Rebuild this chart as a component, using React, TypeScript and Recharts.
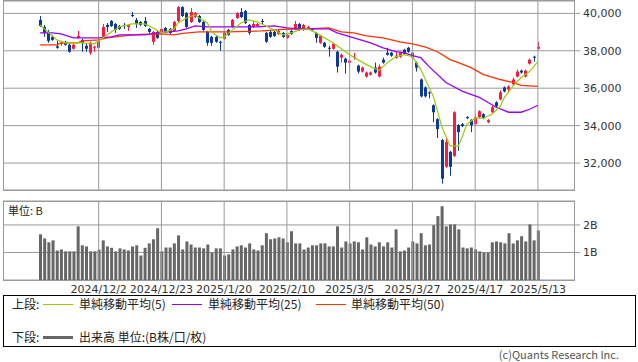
import React from "react";
import {
  ComposedChart,
  Bar,
  Line,
  XAxis,
  YAxis,
  CartesianGrid,
  ReferenceLine,
} from "recharts";

// OHLC per trading day (2024/11/12 .. 2025/5/13)
const opens = [
  39645, 39274, 39009, 38744, 38241, 38400, 38479, 38320, 38108, 38691,
  38585, 38267, 37896, 38161, 38161, 38744, 39380, 39592, 39433, 39327,
  39380, 39274, 39910, 39645, 39539, 39592, 39168, 38479, 39009, 39009,
  39221, 39168, 39062, 39592, 40334, 40016, 39539, 39804, 39857, 39539,
  39009, 38744, 38744, 38479, 38638, 39115, 39274, 39751, 40069, 40122,
  39380, 39274, 39327, 39592, 38956, 39009, 39009, 38903, 38956, 38691,
  39062, 39168, 39433, 39115, 39221, 39168, 38956, 38426, 38426, 38161,
  38108, 37949, 37631, 37578, 37366, 37658, 37207, 36889, 36624, 36730,
  37101, 36624, 37525, 37896, 37896, 37631, 37684, 38055, 38161, 37631,
  37366, 36465, 36041, 35776, 35087, 34345, 33232, 31801, 32596, 32384,
  34027, 34080, 34451, 34292, 34080, 34451, 34610, 34186, 34716, 35246,
  35405, 36041, 35935, 36200, 36624, 36942, 36624, 37313, 37684, 38108,
];
const highs = [
  39857, 39380, 39115, 38850, 38532, 38532, 38532, 38373, 38373, 39062,
  38638, 38373, 38479, 38267, 38585, 39433, 39486, 39645, 39486, 39380,
  39486, 39433, 40069, 39751, 39592, 39804, 39221, 39062, 39062, 39221,
  39274, 39221, 39592, 40387, 40387, 40069, 40281, 40069, 39910, 39592,
  39062, 38797, 38797, 38532, 39009, 39168, 39698, 40069, 40281, 40175,
  39433, 39592, 39486, 39698, 39009, 39062, 39062, 39115, 39009, 38903,
  39115, 39592, 39486, 39433, 39327, 39221, 39009, 38850, 38479, 38267,
  38426, 38002, 37843, 37631, 37525, 37896, 37260, 37154, 36889, 36889,
  37366, 37260, 37631, 38161, 37949, 37949, 37949, 38108, 38214, 37949,
  37419, 36518, 36094, 35829, 35140, 34398, 33285, 33338, 32649, 34769,
  34080, 34133, 34504, 34345, 34610, 34822, 34663, 34345, 35087, 35299,
  35882, 36094, 36147, 36571, 36995, 36995, 36995, 37578, 37737, 38479,
];
const lows = [
  39274, 38744, 38426, 38532, 38108, 38267, 38267, 37896, 38055, 38638,
  37949, 37949, 37790, 37949, 38108, 38691, 39009, 39274, 38956, 39115,
  39168, 39062, 39804, 39221, 39327, 39274, 38956, 38320, 38638, 38956,
  38956, 38903, 39009, 39539, 39804, 39221, 39486, 39751, 39486, 39062,
  38267, 38267, 38426, 38002, 38585, 38797, 39221, 39698, 39751, 39433,
  38850, 39221, 39274, 39380, 38426, 38691, 38744, 38850, 38691, 38638,
  38850, 39115, 39062, 39062, 39168, 39062, 38426, 38373, 38161, 37684,
  38055, 36836, 37366, 36783, 37154, 37525, 36783, 36836, 36571, 36677,
  36783, 36571, 37313, 37737, 37684, 37578, 37631, 37790, 37896, 37525,
  36889, 35511, 35511, 35458, 34186, 33338, 30900, 31748, 31324, 32331,
  32649, 33921, 34345, 33656, 34027, 34398, 34345, 34133, 34663, 34981,
  35352, 35776, 35776, 36147, 36571, 36783, 36571, 37260, 37419, 38055,
];
const closes = [
  39327, 38956, 38532, 38585, 38161, 38426, 38320, 37949, 38320, 38797,
  38426, 38108, 38426, 38214, 38532, 39274, 39274, 39327, 39115, 39168,
  39350, 39380, 39880, 39433, 39380, 39327, 39009, 39009, 38691, 39168,
  39009, 38956, 39539, 40334, 39857, 39274, 40069, 40016, 39539, 39115,
  38426, 38426, 38479, 38450, 38956, 38850, 39645, 40016, 39804, 39486,
  38956, 39433, 39433, 39560, 38479, 38744, 38797, 39062, 38744, 38850,
  38903, 39433, 39115, 39380, 39274, 39115, 38691, 38797, 38214, 38135,
  38373, 37154, 37790, 37366, 37472, 37684, 36889, 37101, 36836, 36836,
  36836, 37154, 37366, 37790, 37737, 37737, 37896, 37843, 37949, 37896,
  37101, 35564, 35564, 35723, 34716, 33815, 31165, 33126, 31801, 34716,
  33656, 33974, 34425, 34027, 34451, 34769, 34398, 34292, 34981, 35034,
  35776, 35829, 36094, 36465, 36889, 36836, 36942, 37525, 37658, 38214,
];

// 出来高 (B)
const volumes = [
  1.66, 1.51, 1.37, 1.44, 1.07, 1.11, 1.04, 1.04, 1.04, 1.95,
  1.26, 1.22, 1.04, 1.04, 1.1, 1.44, 1.22, 1.17, 1.04, 1.15,
  1.11, 1.07, 1.22, 1.26, 0.89, 1.17, 1.33, 1.48, 1.88, 1.04,
  1.18, 1.18, 1.33, 1.62, 1.11, 1.4, 1.29, 1.18, 1.18, 1.15,
  1.29, 1.0, 1.15, 1.15, 0.89, 0.93, 1.11, 1.22, 1.26, 1.18,
  1.33, 1.11, 1.07, 1.26, 1.7, 1.48, 1.51, 1.55, 1.51, 1.37,
  1.77, 1.33, 1.33, 1.11, 1.18, 1.26, 1.26, 1.33, 1.33, 1.22,
  1.22, 1.95, 1.18, 1.4, 1.33, 1.4, 1.37, 1.11, 1.55, 1.29,
  1.22, 1.37, 1.22, 1.37, 1.18, 1.84, 1.04, 1.07, 1.18, 1.4,
  1.33, 1.7, 1.26, 1.29, 1.99, 2.32, 2.68, 1.95, 2.02, 2.02,
  1.84, 1.18, 1.15, 1.18, 1.11, 1.04, 1.0, 1.0, 1.37, 1.4,
  1.37, 1.33, 1.7, 1.33, 1.44, 1.59, 1.4, 2.02, 1.44, 1.8,
];

// moving averages, read at the listed day indexes
const ma5Idx = [0, 4, 6, 10, 13, 17, 19, 22, 25, 27, 29, 30, 32, 33, 35, 37, 38, 40, 41, 43, 44, 46, 48, 50, 52, 54, 56, 58, 60, 62, 64, 66, 70, 74, 78, 81, 83, 85, 87, 89, 91, 94, 96, 98, 100, 101, 102, 104, 106, 108, 110, 111, 113, 115, 117, 119];
const ma5Val = [39380, 38585, 38426, 38426, 38373, 39009, 39274, 39433, 39433, 39221, 38956, 39009, 39168, 39486, 39751, 39910, 39751, 39486, 39009, 38691, 38744, 39115, 39486, 39645, 39539, 39327, 39115, 38850, 38956, 39115, 39168, 38956, 38426, 37790, 37260, 36942, 37366, 37684, 37790, 37684, 36995, 35564, 33974, 32914, 32914, 33444, 34080, 34398, 34398, 34610, 35034, 35511, 36094, 36571, 36889, 37419];
const ma25Idx = [0, 3, 5, 8, 14, 17, 19, 25, 28, 33, 35, 37, 40, 52, 56, 59, 62, 66, 69, 71, 75, 79, 82, 85, 87, 89, 91, 93, 97, 101, 105, 107, 109, 112, 115, 117, 119];
const ma25Val = [38956, 38956, 38903, 38691, 38691, 38744, 38850, 38850, 38956, 39062, 39168, 39327, 39274, 39274, 39327, 39221, 39168, 39168, 39168, 38956, 38691, 38426, 38161, 37949, 37896, 37737, 37631, 37154, 36306, 35829, 35511, 35246, 34981, 34716, 34716, 34875, 35087];
const ma50Idx = [0, 4, 5, 9, 10, 14, 16, 20, 24, 29, 32, 34, 38, 45, 53, 58, 64, 69, 72, 75, 78, 82, 86, 89, 92, 95, 98, 100, 103, 106, 110, 113, 115, 119];
const ma50Val = [38320, 38320, 38426, 38426, 38532, 38585, 38691, 38797, 38876, 38903, 38850, 38930, 39009, 39009, 39062, 39142, 39168, 39221, 39009, 38956, 38797, 38691, 38479, 38373, 38214, 37949, 37525, 37366, 37101, 36730, 36465, 36306, 36147, 36094];

const tickIdx = [14, 29, 44, 59, 74, 89, 104, 119];
const tickLabels = ["2024/12/2", "2024/12/23", "2025/1/20", "2025/2/10", "2025/3/5", "2025/3/27", "2025/4/17", "2025/5/13"];

const priceTicks = [32000, 34000, 36000, 38000, 40000];

const UP = "#ff1744";
const DOWN = "#0a3a9a";
const GRID = "#9a9a9a";

const pick = (idx: number[], val: number[], i: number) => {
  const k = idx.indexOf(i);
  return k < 0 ? null : val[k];
};

const rows = opens.map((o, i) => ({
  i,
  open: o,
  high: highs[i],
  low: lows[i],
  close: closes[i],
  range: [lows[i], highs[i]],
  vol: volumes[i],
  ma5: pick(ma5Idx, ma5Val, i),
  ma25: pick(ma25Idx, ma25Val, i),
  ma50: pick(ma50Idx, ma50Val, i),
}));

const Candle = (props: any) => {
  const { x, y, width, height, payload } = props;
  const { open, close, high, low } = payload;
  const top = Math.min(y, y + height);
  const h = Math.abs(height);
  const k = high === low ? 0 : h / (high - low);
  const yOf = (v: number) => top + (high - v) * k;
  const c = Math.round(x + width / 2);
  const color = close > open ? UP : DOWN;
  const bTop = yOf(Math.max(open, close));
  const bH = Math.max(1, Math.abs(yOf(open) - yOf(close)));
  return (
    <g>
      <line x1={c + 0.5} x2={c + 0.5} y1={top} y2={top + h} stroke={color} strokeWidth={1} />
      <rect x={c - 1} y={bTop} width={3} height={bH} fill={color} />
    </g>
  );
};

const axisTick = { fontSize: 11, fill: "#333", fontFamily: "DejaVu Sans" };
const pad = { left: 35, right: 35 };

// legend helpers, absolutely placed inside the box
const Txt = ({ x, y, children }: { x: number; y: number; children: React.ReactNode }) => (
  <div style={{ position: "absolute", left: x, top: y - 8, height: 16, lineHeight: "16px", whiteSpace: "nowrap" }}>{children}</div>
);
const Sw = ({ x, y, color, h = 1 }: { x: number; y: number; color: string; h?: number }) => (
  <div style={{ position: "absolute", left: x, top: y - h / 2, width: 30, height: h, background: color }} />
);

export default function App() {
  return (
    <div style={{ position: "absolute", left: 0, top: 0, width: 638, height: 362, background: "#fff", fontFamily: '"Noto Sans CJK JP", sans-serif', color: "#222", overflow: "hidden" }}>
      {/* price panel */}
      <div style={{ position: "absolute", left: 0, top: 0 }}>
        <ComposedChart width={638} height={192} data={rows} margin={{ top: 1, right: 3, left: 3, bottom: 2 }}>
          <CartesianGrid vertical={false} stroke={GRID} />
          <XAxis dataKey="i" hide padding={pad} />
          <YAxis
            orientation="right"
            width={60}
            domain={[30560, 40660]}
            allowDataOverflow
            ticks={priceTicks}
            tickFormatter={(v) => v.toLocaleString("en-US")}
            tick={axisTick}
            axisLine={false}
            tickSize={5}
            tickMargin={3}
            tickLine={{ stroke: GRID }}
          />
          {tickIdx.map((t) => (
            <ReferenceLine key={t} x={t} stroke={GRID} />
          ))}
          <Bar dataKey="range" shape={<Candle />} isAnimationActive={false} />
          <Line dataKey="ma50" stroke="#ff3300" strokeWidth={1.3} dot={false} connectNulls isAnimationActive={false} />
          <Line dataKey="ma25" stroke="#9900ff" strokeWidth={1.3} dot={false} connectNulls isAnimationActive={false} />
          <Line dataKey="ma5" stroke="#99cc00" strokeWidth={1.2} dot={false} connectNulls isAnimationActive={false} />
        </ComposedChart>
      </div>
      <div style={{ position: "absolute", left: 3, top: 0, width: 572, height: 191, border: `1px solid ${GRID}`, boxSizing: "border-box" }} />

      {/* volume panel */}
      <div style={{ position: "absolute", left: 0, top: 196 }}>
        <ComposedChart width={638} height={100} data={rows} margin={{ top: 5, right: 3, left: 3, bottom: 0 }}>
          <CartesianGrid vertical={false} stroke={GRID} />
          <XAxis
            dataKey="i"
            padding={pad}
            ticks={tickIdx}
            interval={0}
            tickFormatter={(v) => tickLabels[tickIdx.indexOf(v)] ?? ""}
            tick={axisTick}
            axisLine={false}
            tickLine={false}
            tickSize={0}
            tickMargin={5}
            height={16}
          />
          <YAxis
            orientation="right"
            width={60}
            domain={[0, 2.87]}
            allowDataOverflow
            ticks={[1, 2]}
            tickFormatter={(v) => `${v}B`}
            tick={axisTick}
            axisLine={false}
            tickSize={5}
            tickMargin={3}
            tickLine={{ stroke: GRID }}
          />
          {tickIdx.map((t) => (
            <ReferenceLine key={t} x={t} stroke={GRID} />
          ))}
          <Bar dataKey="vol" fill="#666666" barSize={3} isAnimationActive={false} />
        </ComposedChart>
      </div>
      <div style={{ position: "absolute", left: 3, top: 201, width: 572, height: 80, border: `1px solid ${GRID}`, boxSizing: "border-box" }} />
      <div style={{ position: "absolute", left: 8, top: 202, fontSize: 11 }}>単位: B</div>

      {/* legend */}
      <div style={{ position: "absolute", left: 3, top: 295, width: 633, height: 52, border: "1px solid #000", boxSizing: "border-box", fontSize: 12 }}>
        <Txt x={8} y={8}>上段:</Txt>
        <Sw x={39} y={8} color="#99cc00" />
        <Txt x={75} y={8}>単純移動平均(5)</Txt>
        <Sw x={168} y={8} color="#9900ff" />
        <Txt x={204} y={8}>単純移動平均(25)</Txt>
        <Sw x={312} y={8} color="#ff3300" />
        <Txt x={347} y={8}>単純移動平均(50)</Txt>
        <Txt x={8} y={41}>下段:</Txt>
        <Sw x={39} y={41} color="#666666" h={3} />
        <Txt x={75} y={41}>出来高 単位:(B株/口/枚)</Txt>
      </div>
      <div style={{ position: "absolute", right: 19, top: 348, height: 13, lineHeight: "13px", fontSize: 11, color: "#555" }}>(c)Quants Research Inc.</div>
    </div>
  );
}
